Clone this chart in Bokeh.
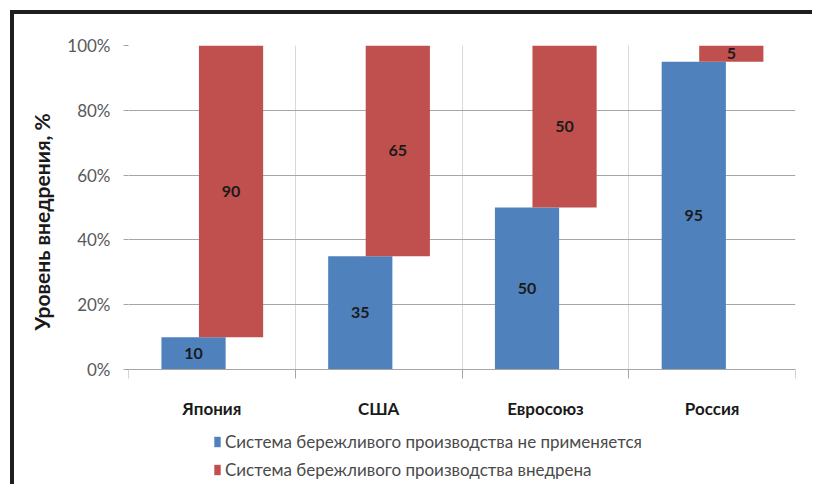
import numpy as np
from bokeh.plotting import figure
from bokeh.models import ColumnDataSource, FixedTicker, Legend, LegendItem, Title
from bokeh.core.properties import value
from bokeh.embed import file_html
from bokeh.resources import INLINE

countries = ["Япония", "США", "Евросоюз", "Россия"]
not_applied = [10, 35, 50, 95]
implemented = [90, 65, 50, 5]
series_names = ["Система бережливого производства не применяется",
                "Система бережливого производства внедрена"]
y_ticks = [0, 20, 40, 60, 80, 100]
y_tick_labels = ["0%", "20%", "40%", "60%", "80%", "100%"]
y_axis_title = "Уровень внедрения, %"

BLUE = "#4F81BD"
RED = "#C0504D"
FONT = "Lato"

idx = np.arange(len(countries)) + 1
na = np.array(not_applied)
im = np.array(implemented)

blue_src = ColumnDataSource(dict(x=idx - 0.11, top=na, bottom=np.zeros_like(na),
                                 mid=na / 2.0, label=[str(v) for v in not_applied]))
red_src = ColumnDataSource(dict(x=idx + 0.115, top=na + im, bottom=na,
                                mid=na + im / 2.0, label=[str(v) for v in implemented]))

# frame extends below 0 so the legend can sit inside it (below the x labels)
p = figure(width=802, height=474, x_range=(0.5, len(countries) + 0.5), y_range=(-36.7, 100),
           output_backend="svg", toolbar_location=None,
           min_border_left=114, min_border_right=21, min_border_top=31, min_border_bottom=0)
p.outline_line_color = None
p.styles = {"border-top": "4px solid #1e1e1e", "border-left": "4px solid #1e1e1e",
            "margin-left": "10px", "margin-top": "10px"}

bw = 0.385
rb = p.vbar(x="x", top="top", bottom="bottom", width=bw, source=blue_src,
            fill_color=BLUE, line_color=None)
rr = p.vbar(x="x", top="top", bottom="bottom", width=bw, source=red_src,
            fill_color=RED, line_color=None)

for src in (blue_src, red_src):
    p.text(x="x", y="mid", text="label", source=src, text_align="center",
           text_baseline="middle", text_font=value(FONT), text_font_style="bold",
           text_font_size="16px", text_color="#1a1a1a")

bounds = [i + 0.5 for i in range(len(countries) + 1)]

# x axis drawn at y = 0
p.xaxis.fixed_location = 0
p.xaxis.ticker = FixedTicker(ticks=list(idx), minor_ticks=bounds)
p.xaxis.major_label_overrides = {int(i): c for i, c in zip(idx, countries)}
p.xaxis.axis_line_color = "#A6A6A6"
p.xaxis.major_tick_in = 0
p.xaxis.major_tick_out = 0
p.xaxis.minor_tick_in = 0
p.xaxis.minor_tick_out = 9
p.xaxis.minor_tick_line_color = "#A6A6A6"
p.xaxis.major_label_standoff = 19
p.xaxis.major_label_text_font = FONT
p.xaxis.major_label_text_font_style = "bold"
p.xaxis.major_label_text_font_size = "17px"
p.xaxis.major_label_text_color = "#1a1a1a"

# y axis
p.yaxis.ticker = FixedTicker(ticks=y_ticks)
p.yaxis.major_label_overrides = {t: l for t, l in zip(y_ticks, y_tick_labels)}
p.yaxis.axis_line_color = None
p.yaxis.major_tick_in = 0
p.yaxis.major_tick_out = 5
p.yaxis.major_tick_line_color = "#A6A6A6"
p.yaxis.minor_tick_line_color = None
p.yaxis.major_label_standoff = 13
p.yaxis.major_label_text_font = FONT
p.yaxis.major_label_text_font_size = "17px"
p.yaxis.major_label_text_color = "#595959"

# y axis title, placed along the 0..100 part of the frame
ytitle = Title(text=y_axis_title, align="left", offset=158, standoff=22,
               text_font=FONT, text_font_style="bold", text_font_size="21px",
               text_color="#1a1a1a")
p.add_layout(ytitle, "left")

# grids
p.xgrid.ticker = FixedTicker(ticks=bounds)
p.xgrid.cross_bounds = (0, 100)
p.xgrid.grid_line_color = "#D9D9D9"
p.ygrid.grid_line_color = "#A6A6A6"

legend = Legend(items=[LegendItem(label=series_names[0], renderers=[rb]),
                       LegendItem(label=series_names[1], renderers=[rr])],
                location=(85, 8), orientation="vertical",
                glyph_width=8, glyph_height=13, label_height=20, spacing=7,
                label_standoff=4, padding=0, margin=0,
                label_text_font=FONT, label_text_font_size="17px",
                label_text_color="#4a4a4a",
                border_line_color=None, background_fill_alpha=0)
p.add_layout(legend)

open("out.html", "w").write(file_html(p, INLINE))
